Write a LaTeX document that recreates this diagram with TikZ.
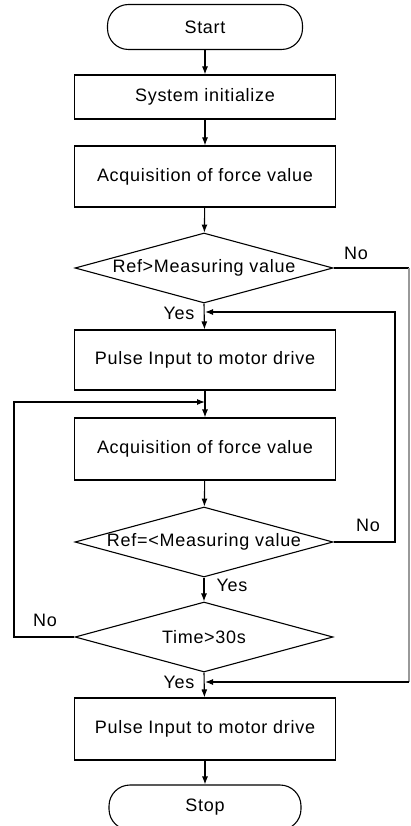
\documentclass[tikz,border=0pt]{standalone}
\usepackage{fontspec}
\setmainfont{Liberation Sans}[LetterSpace=4]
\usetikzlibrary{shapes.geometric,arrows.meta}
\begin{document}
\begin{tikzpicture}[x=1pt,y=-1pt,
  every node/.style={font=\fontsize{18}{20}\selectfont},
  terminal/.style={draw,line width=1.1pt,rounded corners=21pt,minimum width=195pt,minimum height=45pt,inner sep=0pt},
  procbox/.style={draw,line width=1.1pt,minimum width=261pt,inner sep=0pt},
  decision/.style={draw,line width=1.1pt,diamond,shape aspect=3.67,minimum width=258pt,minimum height=70pt,inner sep=0pt},
  flow/.style={line width=1.1pt,-{Latex[length=8pt,width=6pt]}},
  plain/.style={line width=1.1pt},
  lbl/.style={inner sep=0pt}
]
\useasboundingbox (0,0) rectangle (411,826);

\node[terminal] (start) at (205,27) {Start};
\node[procbox,minimum height=44pt] (init) at (205,97) {System initialize};
\node[procbox,minimum height=61pt] (acq1) at (205,176.5) {Acquisition of force value};
\node[decision] (d1) at (204,268) {Ref>Measuring value};
\node[procbox,minimum height=60pt] (pulse1) at (205,360) {Pulse Input to motor drive};
\node[procbox,minimum height=62pt] (acq2) at (205,449) {Acquisition of force value};
\node[decision] (d2) at (204,542) {Ref=<Measuring value};
\node[decision] (d3) at (204,637) {Time>30s};
\node[procbox,minimum height=62pt] (pulse2) at (205,729) {Pulse Input to motor drive};
\node[terminal,minimum width=192pt] (stop) at (205,807.5) {Stop};

\coordinate (j1) at (205,312);
\coordinate (j2) at (205,402);
\coordinate (j3) at (205,682);
\coordinate (r1) at (409,268);
\coordinate (r2) at (409,682);
\coordinate (m1) at (395,542);
\coordinate (m2) at (395,312);
\coordinate (l1) at (14,637);
\coordinate (l2) at (14,402);

\draw[flow] (start) -- (init);
\draw[flow] (init) -- (acq1);
\draw[flow] (acq1) -- (d1);
\draw[flow] (d1.south) -- (pulse1);
\draw[flow] (pulse1) -- (acq2);
\draw[flow] (acq2) -- (d2);
\draw[flow] (d2.south) -- (d3.north);
\draw[flow] (d3.south) -- (pulse2);
\draw[flow] (pulse2) -- (stop);

\draw[plain] (d1.east) -- (r1);
\draw[plain,black!40] (r1) -- (r2);
\draw[flow] (r2) -- (j3);
\draw[flow] (d2.east) -- (m1) -- (m2) -- (j1);
\draw[flow] (d3.west) -- (l1) -- (l2) -- (j2);

\node[lbl] (no1) at (356,253) {No};
\node[lbl] (yes1) at (179,313) {Yes};
\node[lbl] (no2) at (368,525) {No};
\node[lbl] (yes2) at (232,585) {Yes};
\node[lbl] (no3) at (45,620) {No};
\node[lbl] (yes3) at (179,682) {Yes};
\end{tikzpicture}
\end{document}
